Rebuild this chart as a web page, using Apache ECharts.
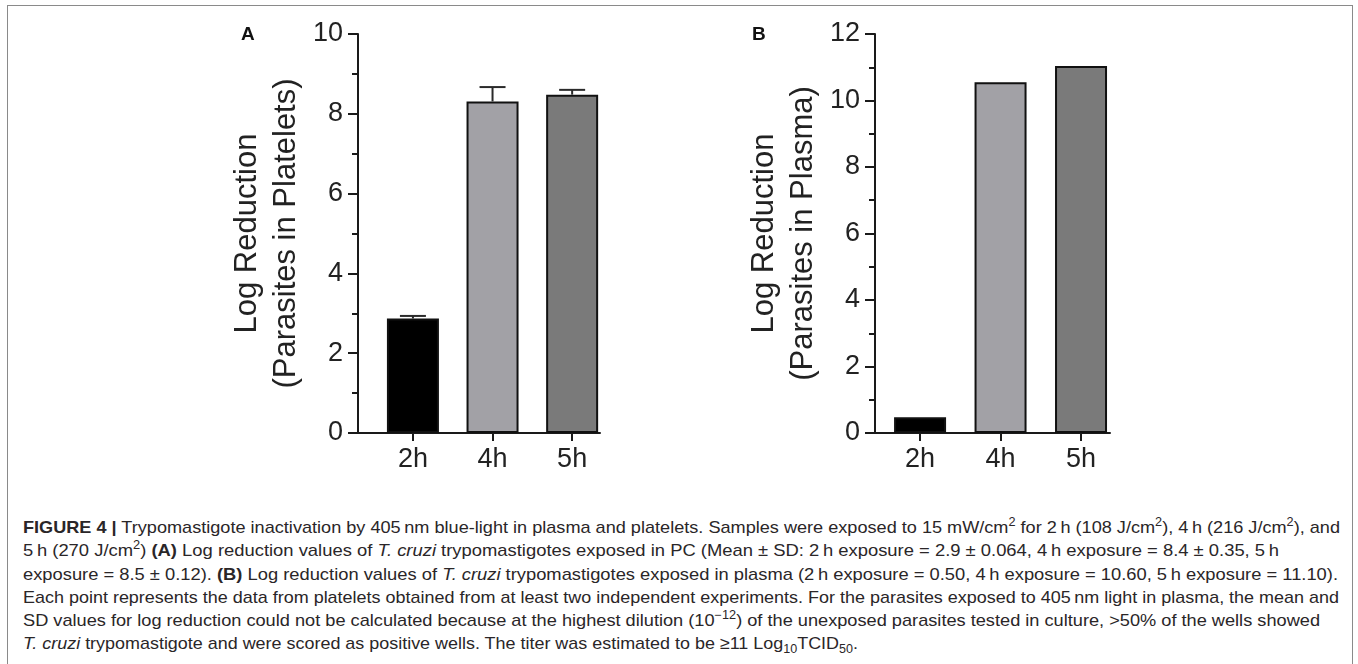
<!DOCTYPE html>
<html>
<head>
<meta charset="utf-8">
<script src="https://cdn.jsdelivr.net/npm/echarts@6/dist/echarts.min.js"></script>
<style>
  html, body { margin: 0; padding: 0; background: #fff; }
  #wrap { position: relative; width: 1358px; height: 664px; overflow: hidden; }
  #frame { position: absolute; left: 7px; top: 5px; width: 1346px; height: 700px; border: 1.5px solid #8a8a8a; box-sizing: border-box; }
  #chart { position: absolute; left: 0; top: 0; width: 1358px; height: 500px; }
  #caption { position: absolute; left: 23px; top: 516px; font-family: "Liberation Sans", Arial, sans-serif; font-size: 17px; color: #2a2628; line-height: 23.3px; }
  #caption .ln { white-space: nowrap; transform-origin: 0 50%; width: max-content; }
  sup, sub { font-size: 70%; line-height: 0; }
</style>
</head>
<body>
<div id="wrap">
  <div id="frame"></div>
  <div id="chart"></div>
  <div id="caption">
    <div class="ln"><b>FIGURE 4 |</b> Trypomastigote inactivation by 405&#8201;nm blue-light in plasma and platelets. Samples were exposed to 15 mW/cm<sup>2</sup> for 2&#8201;h (108 J/cm<sup>2</sup>), 4&#8201;h (216 J/cm<sup>2</sup>), and</div>
    <div class="ln">5&#8201;h (270 J/cm<sup>2</sup>) <b>(A)</b> Log reduction values of <i>T. cruzi</i> trypomastigotes exposed in PC (Mean &plusmn; SD: 2&#8201;h exposure = 2.9 &plusmn; 0.064, 4&#8201;h exposure = 8.4 &plusmn; 0.35, 5&#8201;h</div>
    <div class="ln">exposure = 8.5 &plusmn; 0.12). <b>(B)</b> Log reduction values of <i>T. cruzi</i> trypomastigotes exposed in plasma (2&#8201;h exposure = 0.50, 4&#8201;h exposure = 10.60, 5&#8201;h exposure = 11.10).</div>
    <div class="ln">Each point represents the data from platelets obtained from at least two independent experiments. For the parasites exposed to 405&#8201;nm light in plasma, the mean and</div>
    <div class="ln">SD values for log reduction could not be calculated because at the highest dilution (10<sup>&minus;12</sup>) of the unexposed parasites tested in culture, &gt;50% of the wells showed</div>
    <div class="ln"><i>T. cruzi</i> trypomastigote and were scored as positive wells. The titer was estimated to be &ge;11 Log<sub>10</sub>TCID<sub>50</sub>.</div>
  </div>
</div>
<script>
// ---- data ----
const categories = ['2h', '4h', '5h'];
const plateletMeans = [2.87, 8.31, 8.48];
const plateletSD = [0.064, 0.36, 0.12];
const plasmaValues = [0.47, 10.55, 11.04];
const barColors = ['#000000', '#a2a1a6', '#7a7a7a'];
const yTicksA = { min: 0, max: 10, interval: 2 };
const yTicksB = { min: 0, max: 12, interval: 2 };

(function () {
  const lines = document.querySelectorAll('#caption .ln');
  const targets = [1317, 1256, 1315, 1316, 1297, 835];
  lines.forEach((l, i) => {
    const w = l.getBoundingClientRect().width;
    l.style.transform = 'scaleX(' + (targets[i] / w) + ')';
  });
})();

const FONT = '"Liberation Sans", Arial, sans-serif';
const AX = '#1a1a1a';

function xAxisCfg(gridIndex, min, max) {
  return {
    type: 'value', gridIndex, min, max,
    splitLine: { show: false },
    axisLine: { show: true, onZero: false, lineStyle: { color: AX, width: 2 } },
    axisTick: { show: true, customValues: [0, 1, 2], length: 8, lineStyle: { color: AX, width: 2 } },
    axisLabel: { show: true, customValues: [0, 1, 2], formatter: v => categories[Math.round(v)], fontSize: 27, color: '#222', fontFamily: FONT, margin: 13 }
  };
}
function yAxisCfg(gridIndex, t, name) {
  return {
    type: 'value', gridIndex, min: t.min, max: t.max, interval: t.interval,
    splitLine: { show: false },
    axisLine: { show: true, onZero: false, lineStyle: { color: AX, width: 2 } },
    axisTick: { show: true, length: 10, lineStyle: { color: AX, width: 2 } },
    minorTick: { show: true, splitNumber: 2, length: 6, lineStyle: { color: AX, width: 2 } },
    axisLabel: { fontSize: 27, color: '#222', fontFamily: FONT, margin: 15 },
    name, nameLocation: 'middle', nameRotate: 90, nameGap: 52,
    nameTextStyle: { fontSize: 31, color: '#222', fontFamily: FONT, lineHeight: 39, align: 'center' }
  };
}

function barData(vals) {
  return vals.map((v, i) => ({ value: [i, v], itemStyle: { color: barColors[i] } }));
}

const chart = echarts.init(document.getElementById('chart'), null, { renderer: 'canvas' });
chart.setOption({
  animation: false,
  backgroundColor: 'transparent',
  title: [
    { text: 'A', left: 236, top: 20, textStyle: { fontSize: 19, fontWeight: 'bold', color: '#111', fontFamily: FONT } },
    { text: 'B', left: 747, top: 20, textStyle: { fontSize: 19, fontWeight: 'bold', color: '#111', fontFamily: FONT } }
  ],
  grid: [
    { left: 358, top: 34, width: 242, height: 399 },
    { left: 875, top: 34, width: 235, height: 399 }
  ],
  xAxis: [xAxisCfg(0, -0.69, 2.35), xAxisCfg(1, -0.56, 2.36)],
  yAxis: [
    yAxisCfg(0, yTicksA, 'Log Reduction\n(Parasites in Platelets)'),
    yAxisCfg(1, yTicksB, 'Log Reduction\n(Parasites in Plasma)')
  ],
  series: [
    {
      type: 'bar', xAxisIndex: 0, yAxisIndex: 0, barWidth: 52,
      itemStyle: { borderColor: '#111', borderWidth: 2 },
      data: barData(plateletMeans), z: 2
    },
    {
      type: 'custom', xAxisIndex: 0, yAxisIndex: 0, z: 3,
      data: plateletMeans.map((m, i) => [i, m, m + plateletSD[i]]),
      renderItem: function (params, api) {
        const p0 = api.coord([api.value(0), api.value(1)]);
        const p1 = api.coord([api.value(0), api.value(2)]);
        const hw = 13;
        const st = { stroke: '#2a2a2a', lineWidth: 2, fill: null };
        return {
          type: 'group', children: [
            { type: 'line', shape: { x1: p0[0], y1: p0[1], x2: p1[0], y2: p1[1] }, style: st },
            { type: 'line', shape: { x1: p1[0] - hw, y1: p1[1], x2: p1[0] + hw, y2: p1[1] }, style: st }
          ]
        };
      }
    },
    {
      type: 'bar', xAxisIndex: 1, yAxisIndex: 1, barWidth: 52,
      itemStyle: { borderColor: '#111', borderWidth: 2 },
      data: barData(plasmaValues), z: 2
    }
  ]
});
</script>
</body>
</html>
